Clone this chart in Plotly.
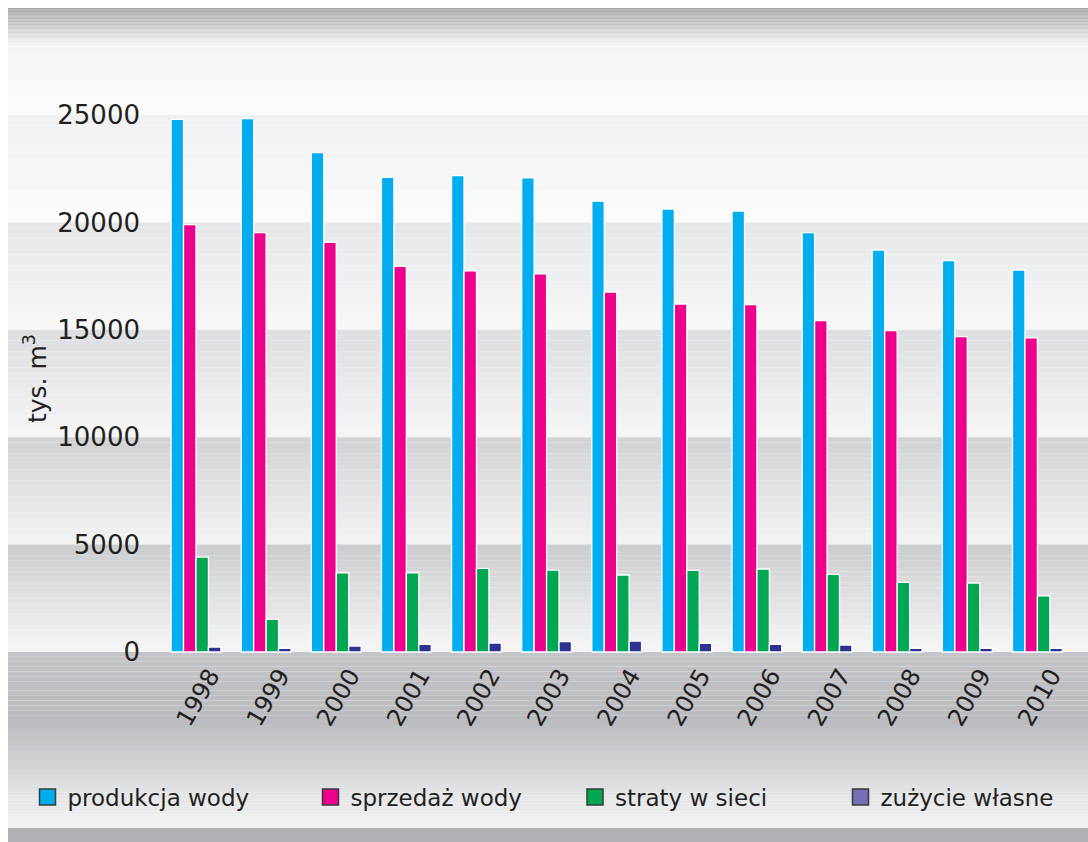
import plotly.graph_objects as go

# ---------------- data ----------------
years = ["1998", "1999", "2000", "2001", "2002", "2003", "2004",
         "2005", "2006", "2007", "2008", "2009", "2010"]
produkcja = [24800, 24830, 23245, 22100, 22180, 22070, 20990,
             20620, 20530, 19520, 18715, 18220, 17785]
sprzedaz = [19900, 19520, 19070, 17955, 17740, 17600, 16760,
            16200, 16170, 15425, 14960, 14680, 14620]
straty = [4420, 1520, 3680, 3690, 3895, 3815, 3585,
          3800, 3865, 3615, 3245, 3210, 2620]
zuzycie = [230, 170, 280, 355, 420, 480, 510,
           400, 355, 325, 170, 170, 170]

series_names = ["produkcja wody", "sprzedaż wody", "straty w sieci", "zużycie własne"]
series_values = [produkcja, sprzedaz, straty, zuzycie]
bar_colors = ["#00aeef", "#ec008c", "#00a651", "#2e3192"]
legend_colors = ["#00aeef", "#ec008c", "#00a651", "#7670b4"]
y_ticks = [0, 5000, 10000, 15000, 20000, 25000]

# ---------------- layout geometry ----------------
W, H = 1088, 842
ML, MT = 8, 8
Y_MIN, Y_MAX = -8845, 29981
FONT = "DejaVu Sans"
TXT = "#231f20"

plot_h = H - MT
plot_w = W - ML
def px2val(py):
    return Y_MAX - (py - MT) / plot_h * (Y_MAX - Y_MIN)

def hexrgb(h):
    h = h.lstrip("#")
    return tuple(int(h[i:i + 2], 16) for i in (0, 2, 4))

def gradient(stops, n_per):
    """stops: list of (value, hexcolor) ordered top->bottom"""
    shapes = []
    for (v0, c0), (v1, c1) in zip(stops[:-1], stops[1:]):
        r0, r1 = hexrgb(c0), hexrgb(c1)
        for i in range(n_per):
            t = (i + 0.5) / n_per
            col = tuple(round(a + (b - a) * t) for a, b in zip(r0, r1))
            ya = v0 + (v1 - v0) * i / n_per
            yb = v0 + (v1 - v0) * (i + 1) / n_per
            shapes.append(dict(type="rect", xref="paper", yref="y", x0=0, x1=1,
                               y0=ya, y1=yb, layer="below", line=dict(width=0),
                               fillcolor="rgb(%d,%d,%d)" % col))
    return shapes

shapes = []
# top header gradient
shapes += gradient([(Y_MAX, "#a4a4a7"), (px2val(28), "#cbcbcd"),
                    (px2val(46), "#f5f5f5"), (25000, "#fbfbfb")], 14)
# bands between ticks (darker at the top, fading downward)
band_tops = {25000: ("#eff0f2", "#fbfbfb"), 20000: ("#e5e6e8", "#f8f8f9"),
             15000: ("#dcdde0", "#f6f6f7"), 10000: ("#d1d2d4", "#f3f3f4"),
             5000: ("#cbccce", "#f6f6f7")}
for top, (ct, cb) in band_tops.items():
    shapes += gradient([(top, ct), (top - 5000, cb)], 20)
# below zero
shapes += gradient([(0, "#c4c5c8"), (px2val(720), "#babbbe"),
                    (px2val(790), "#e1e2e4"), (px2val(828), "#f1f2f3")], 14)
shapes.append(dict(type="rect", xref="paper", yref="y", x0=0, x1=1,
                   y0=px2val(828), y1=Y_MIN, layer="below", line=dict(width=0),
                   fillcolor="#b0b1b4"))

fig = go.Figure()
for name, vals, col in zip(series_names, series_values, bar_colors):
    fig.add_trace(go.Bar(x=years, y=vals, name=name, marker_color=col,
                         marker_line=dict(color="white", width=1.3),
                         showlegend=False, legendgroup=name))

legend_ids = ["legend", "legend2", "legend3", "legend4"]
legend_square_px = [46.5, 329.5, 594, 859.5]
for name, col, lid in zip(series_names, legend_colors, legend_ids):
    fig.add_trace(go.Scatter(x=[None], y=[None], mode="markers", name=name,
                             legendgroup=name, legend=lid,
                             marker=dict(symbol="square", size=22, color=col,
                                         line=dict(color="#3a3a3a", width=1.5))))

x_left = -(196 - ML) / 70.12
x_right = 12 + (W - 1037.4) / 70.12

legend_layouts = {}
for lid, sx in zip(legend_ids, legend_square_px):
    legend_layouts[lid] = dict(orientation="h", x=(sx - 19 - ML) / plot_w,
                               xanchor="left", y=(H - 797) / plot_h,
                               yanchor="middle", bgcolor="rgba(0,0,0,0)",
                               font=dict(size=23, family=FONT, color=TXT),
                               itemsizing="trace")

fig.update_layout(
    width=W, height=H,
    margin=dict(l=ML, r=0, t=MT, b=0, pad=0),
    paper_bgcolor="white", plot_bgcolor="rgba(0,0,0,0)",
    barmode="group", bargap=0.29, bargroupgap=0,
    font=dict(family=FONT, color=TXT),
    shapes=shapes,
    xaxis=dict(type="category", range=[x_left, x_right], showgrid=False,
               zeroline=False, showline=False, ticks="", anchor="free",
               position=(0 - Y_MIN) / (Y_MAX - Y_MIN), tickangle=-60,
               tickfont=dict(size=24, family=FONT, color=TXT),
               ticklabelshift=14, ticklabelstandoff=4),
    yaxis=dict(range=[Y_MIN, Y_MAX], tickvals=y_ticks,
               ticktext=[str(v) for v in y_ticks], showgrid=False,
               zeroline=False, showline=False, ticks="", anchor="free",
               position=(140 - ML) / plot_w,
               tickfont=dict(size=26, family=FONT, color=TXT)),
    annotations=[dict(text="tys. m<sup>3</sup>", xref="paper", yref="paper",
                      x=(35 - ML) / plot_w, y=(H - 379) / plot_h,
                      xanchor="center", yanchor="middle",
                      textangle=-90, showarrow=False,
                      font=dict(size=25, family=FONT, color=TXT))],
    **legend_layouts,
)

fig.write_html("out.html")
